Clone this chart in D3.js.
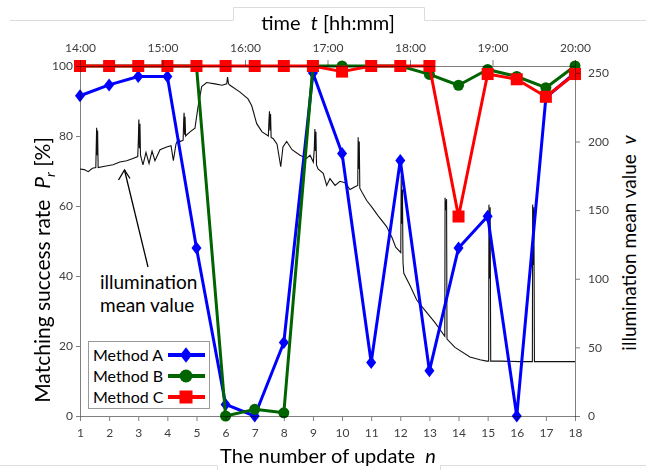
<!DOCTYPE html>
<html><head><meta charset="utf-8">
<script src="https://cdn.jsdelivr.net/npm/d3@7/dist/d3.min.js"></script>
<style>
body{margin:0;background:#fff}
text{font-family:Lato,"Open Sans",sans-serif}
</style></head>
<body><svg id="chart" width="650" height="470"></svg>
<script>
// ---------- data ----------
const updates = [1,2,3,4,5,6,7,8,9,10,11,12,13,14,15,16,17,18];
const methodA = [91.5,94.6,97,97,48,3.3,0,21,98,75,15.3,73,12.9,48,57.1,0,91,98];
const methodB = [100,100,100,100,100,0,1.9,0.9,100,100,100,100,97.6,94.5,99,97,93.8,100];
const methodC = [100,100,100,100,100,100,100,100,100,98.4,100,100,100,57,97.7,96.2,91.2,97.7];
const seriesNames = ["Method A","Method B","Method C"];
const seriesColors = ["#0000ff","#006400","#ff0000"];
const rateTicks = [0,20,40,60,80,100];
const illumTicks = [0,50,100,150,200,250];
const timeTickMinutes = [0,60,120,180,240,300,360];
const timeTickLabels = ["14:00","15:00","16:00","17:00","18:00","19:00","20:00"];
// illumination mean value: minutes after 14:00, value (0-255)
const illumMinutes = [0,3,6,9,11.5,11.8,12.1,12.5,12.8,13.2,18,24,29,34,38,42,42.4,42.8,43.2,43.6,44,45.8,48,50.2,52.4,54.5,58.2,63,66.2,67.9,69.8,71.5,73,75,75.4,75.7,76.1,76.4,76.8,80,83.6,85.8,88.5,92.1,98.2,103.3,106.7,107.3,108,109.1,116.4,122.2,124.9,128.5,132.4,137,137.4,137.8,138.2,138.6,139,140.6,143.3,146,147.6,150.3,154.2,160,164.8,167.3,169.7,170.4,170.8,171.2,171.6,172,173.1,176.9,179.4,181.8,185.5,189.1,192.7,196.4,200,202,202.3,202.7,203.1,203.5,205.1,208.5,212.4,216.7,223,226.9,229.6,233.3,233.6,234.1,234.5,234.9,235.5,240,244.9,250.9,258.2,265.3,265.5,266.2,266.6,266.9,272.7,283.6,290.9,295.8,297.2,297.4,297.9,298.3,298.7,305.5,320,329,329.2,329.7,330.1,330.5,341.8,360];
const illumValues = [180,179.5,178,180.5,181,196,210,190,208,181,182,183,185,186,187.5,189,200,216,195,213,190,183,192,184,193,186,194,196,197,186,198,202,200,201,215,221,205,218,204,207,209.6,225,240,243,242,241,242,247,242,241,236,231,226,213,207,204,215,222,208,220,203,202,198,181.6,196,200,194,190,187.7,190,185,195,209,193,207,183,180,176.8,168,173,168,171,170,165,167,168,203,180,200,166,163,157,152,146,138,130,123,119,175,140,165,112,104,95,84.5,77,68,58,159,150,158,56,50,43,41,40,40,154,100,152,40,40,39.6,39.6,154,110,152,39.6,39.6,39.6];

// ---------- layout ----------
const svg = d3.select("#chart");
const L = 80, R = 575, T = 66, B = 416;
const x = d3.scaleLinear().domain([1,18]).range([L,R]);
const xt = d3.scaleLinear().domain([0,360]).range([L,R]);
const y = d3.scaleLinear().domain([0,100]).range([B,T]);
const y2 = d3.scaleLinear().domain([0,255]).range([B,T]);

// decorative figure frame
const frame = svg.append("g").attr("fill","none").attr("stroke","#dcdcdc").attr("stroke-width",1);
frame.append("path").attr("d","M10,20.5H233.5V7.5H424.5V20.5H646");
frame.append("path").attr("d","M0,465.5H217.5V470 M440.5,470V465.5H646");

// illumination line
const illum = illumMinutes.map((m,i)=>[m, illumValues[i]]);
svg.append("path").datum(illum)
  .attr("fill","none").attr("stroke","#111").attr("stroke-width",1.1)
  .attr("d", d3.line().x(d=>xt(d[0])).y(d=>y2(d[1])));

// series
const diamond = (s)=>`M0,${-s*1.3}L${s},0L0,${s*1.3}L${-s},0Z`;
function marker(g, k, cx, cy, big){
  const c = seriesColors[k];
  if(k===0){ g.append("path").attr("d",diamond(big?6:5)).attr("transform",`translate(${cx},${cy})`).attr("fill",c); }
  else if(k===1){ g.append("circle").attr("cx",cx).attr("cy",cy).attr("r",big?6.5:5.5).attr("fill",c); }
  else { const s = big?13:12; g.append("rect").attr("x",cx-s/2).attr("y",cy-s/2).attr("width",s).attr("height",s).attr("fill",c); }
}
[methodA, methodB, methodC].forEach((vals,k)=>{
  const g = svg.append("g");
  g.append("path").datum(vals).attr("fill","none").attr("stroke",seriesColors[k]).attr("stroke-width",3)
    .attr("stroke-linejoin","round")
    .attr("d", d3.line().x((d,i)=>x(updates[i])).y(d=>y(d)));
  vals.forEach((v,i)=>marker(g,k,x(updates[i]),y(v),false));
});

// axes
const axColor = "#808080", txtColor = "#404040";
function styleAxis(g){
  g.style("mix-blend-mode","multiply");
  g.selectAll(".domain,line").attr("stroke",axColor);
  g.selectAll("text").attr("fill",txtColor).style("font-size","12px").style("font-family","Lato,'Open Sans',sans-serif");
}
svg.append("g").attr("transform",`translate(0,${B})`)
  .call(d3.axisBottom(x).tickValues(updates).tickFormat(d3.format("d")).tickSize(5).tickSizeOuter(0).tickPadding(7))
  .call(styleAxis);
svg.append("g").attr("transform",`translate(0,${T})`)
  .call(d3.axisTop(xt).tickValues(timeTickMinutes).tickFormat((d,i)=>timeTickLabels[i]).tickSize(6).tickSizeOuter(0).tickPadding(8))
  .call(styleAxis);
svg.append("g").attr("transform",`translate(${L},0)`)
  .call(d3.axisLeft(y).tickValues(rateTicks).tickSize(4).tickSizeOuter(0).tickPadding(3))
  .call(styleAxis);
svg.append("g").attr("transform",`translate(${R},0)`)
  .call(d3.axisRight(y2).tickValues(illumTicks).tickSize(5).tickSizeOuter(0).tickPadding(8))
  .call(styleAxis);

// axis titles
const tt = svg.append("g").attr("fill","#000");
tt.append("text").attr("x",328).attr("y",30).attr("text-anchor","middle").style("font-size","20px")
  .html('time&#160;&#160;<tspan font-style="italic">t</tspan> [hh:mm]');
tt.append("text").attr("x",328).attr("y",463).attr("text-anchor","middle").style("font-size","20px")
  .html('The number of update&#160;&#160;<tspan font-style="italic">n</tspan>');
tt.append("text").attr("transform","translate(50,270) rotate(-90)").attr("text-anchor","middle").style("font-size","21px")
  .html('Matching success rate&#160;&#160;<tspan font-style="italic">P</tspan><tspan font-style="italic" dy="5" font-size="14px">r</tspan><tspan dy="-5"> [%]</tspan>');
tt.append("text").attr("transform","translate(636,243) rotate(-90)").attr("text-anchor","middle").style("font-size","19px")
  .html('illumination mean value&#160;&#160;<tspan font-style="italic">v</tspan>');

// annotation
svg.append("text").attr("x",100).attr("y",289).style("font-size","19px").text("illumination");
svg.append("text").attr("x",100).attr("y",312).style("font-size","19px").text("mean value");
svg.append("line").attr("x1",148).attr("y1",267).attr("x2",124.5).attr("y2",170)
  .attr("stroke","#000").attr("stroke-width",1.3);
svg.append("path").attr("d","M118.5,180 L124.5,170 L130,178.5").attr("fill","none").attr("stroke","#000").attr("stroke-width",1.3);

// legend
const lg = svg.append("g");
lg.append("rect").attr("x",88.5).attr("y",341.5).attr("width",121).attr("height",67)
  .attr("fill","#fff").attr("stroke","#999").attr("stroke-width",1);
seriesNames.forEach((nm,k)=>{
  const cy = 355 + k*21;
  lg.append("text").attr("x",93).attr("y",cy+6).style("font-size","16px").attr("fill","#000").text(nm);
  lg.append("line").attr("x1",168).attr("x2",205).attr("y1",cy).attr("y2",cy)
    .attr("stroke",seriesColors[k]).attr("stroke-width",4);
  marker(lg,k,186,cy,true);
});
</script></body></html>
